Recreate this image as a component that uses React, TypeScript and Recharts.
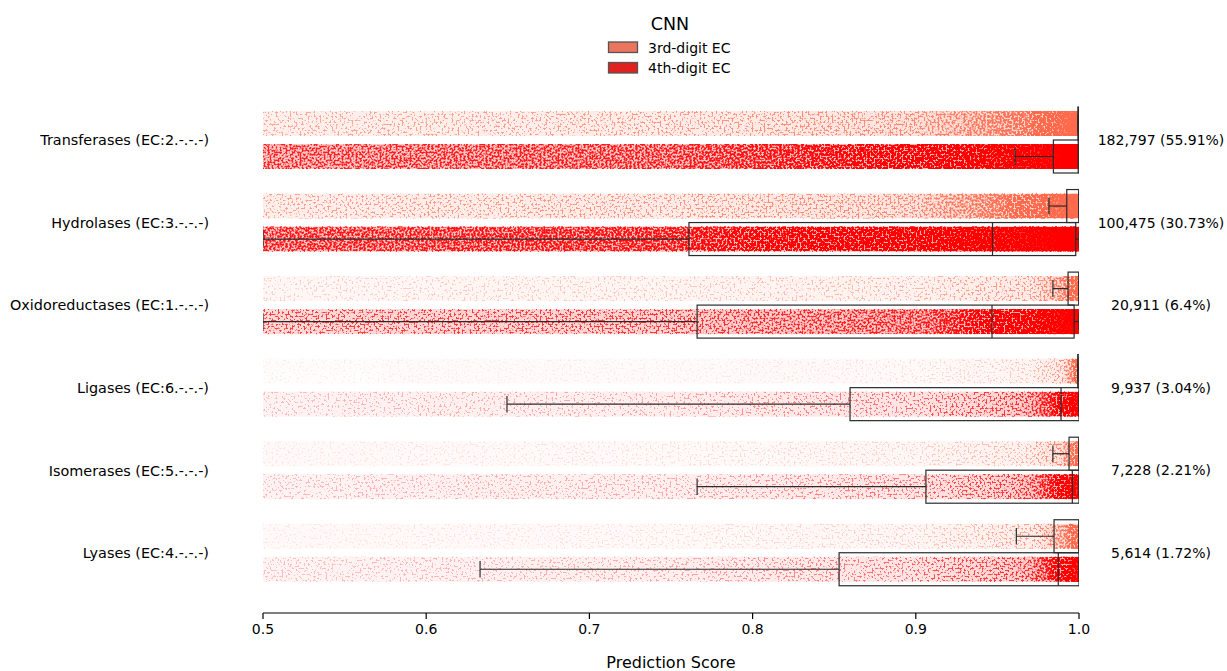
import React from 'react';
import { ComposedChart, Bar, XAxis, YAxis } from 'recharts';

// ---------------- data ----------------
const categories = [
  'Transferases (EC:2.-.-.-)',
  'Hydrolases (EC:3.-.-.-)',
  'Oxidoreductases (EC:1.-.-.-)',
  'Ligases (EC:6.-.-.-)',
  'Isomerases (EC:5.-.-.-)',
  'Lyases (EC:4.-.-.-)',
];
const countLabels = [
  '182,797 (55.91%)',
  '100,475 (30.73%)',
  '20,911 (6.4%)',
  '9,937 (3.04%)',
  '7,228 (2.21%)',
  '5,614 (1.72%)',
];
const seriesNames = ['3rd-digit EC', '4th-digit EC'];
const xTicks = [0.5, 0.6, 0.7, 0.8, 0.9, 1.0];

// box statistics, 3rd-digit EC
const whiskerLow3 = [0.9993, 0.9816, 0.984, 0.9992, 0.984, 0.9616];
const q1Third = [0.9993, 0.9925, 0.9933, 0.9992, 0.9939, 0.9847];
const median3 = [1.0, 0.9999, 0.9999, 1.0, 0.9999, 0.9999];
const q3Third = [1.0, 1.0, 1.0, 1.0, 1.0, 1.0];
const whiskerHigh3 = [1.0, 1.0, 1.0, 1.0, 1.0, 1.0];

// box statistics, 4th-digit EC
const whiskerLow4 = [0.9608, 0.5, 0.5, 0.6495, 0.766, 0.633];
const q1Fourth = [0.9843, 0.761, 0.766, 0.8597, 0.9062, 0.853];
const median4 = [0.9995, 0.947, 0.9467, 0.989, 0.9959, 0.9873];
const q3Fourth = [1.0, 0.998, 0.997, 1.0, 1.0, 1.0];
const whiskerHigh4 = [1.0, 1.0, 1.0, 1.0, 1.0, 1.0];

// ---------------- styles ----------------
const X_MIN = 0.5;
const X_MAX = 1.0;
const stripRGB = [
  [1.0, 0.416, 0.302],
  [1.0, 0.0, 0.0],
];
const legendColor = ['#ec7560', '#e0211f'];
const lineColor = '#2b2b2b';
const BOX_HEIGHT = 33;
const FONT = "'DejaVu Sans', sans-serif";

// visual point density of the strips (style only), at these fractions of the axis
const densityOffsets = [0, 0.5, 0.8, 0.94, 0.98, 1];
const densityThird = [
  [0.24, 0.29, 0.42, 0.66, 0.92, 1],
  [0.26, 0.31, 0.42, 0.72, 0.96, 1],
  [0.13, 0.16, 0.21, 0.32, 0.56, 0.88],
  [0.05, 0.06, 0.09, 0.16, 0.34, 0.82],
  [0.07, 0.09, 0.13, 0.22, 0.46, 0.78],
  [0.07, 0.09, 0.14, 0.27, 0.55, 0.82],
];
const densityFourth = [
  [0.5, 0.56, 0.7, 0.92, 1, 1],
  [0.56, 0.62, 0.78, 0.95, 1, 1],
  [0.36, 0.41, 0.53, 0.8, 0.96, 1],
  [0.12, 0.16, 0.25, 0.45, 0.72, 0.96],
  [0.12, 0.15, 0.24, 0.45, 0.75, 0.96],
  [0.11, 0.15, 0.25, 0.45, 0.75, 0.96],
];

const stats = [
  { lo: whiskerLow3, q1: q1Third, med: median3, q3: q3Third, hi: whiskerHigh3, density: densityThird },
  { lo: whiskerLow4, q1: q1Fourth, med: median4, q3: q3Fourth, hi: whiskerHigh4, density: densityFourth },
];

const rows = categories.map((name, i) => ({
  name,
  count: countLabels[i],
  idx: i,
  strip3: [X_MIN, X_MAX],
  strip4: [X_MIN, X_MAX],
}));

function makeShape(s: number) {
  return (props: any) => {
    const { x, y, width, height, payload } = props;
    const i: number = payload.idx;
    const st = stats[s];
    const px = (v: number) => x + ((v - X_MIN) / (X_MAX - X_MIN)) * width;
    const yc = y + height / 2;
    const bh = BOX_HEIGHT;
    const gid = `grad-${s}-${i}`;
    const fid = `speck-${s}-${i}`;
    const lo = px(st.lo[i]);
    const q1 = px(st.q1[i]);
    const med = px(st.med[i]);
    const q3 = px(st.q3[i]);
    const hi = px(st.hi[i]);
    const [r, g, b] = stripRGB[s];
    return (
      <g>
        <defs>
          <linearGradient id={gid} x1="0" y1="0" x2="1" y2="0">
            {densityOffsets.map((o, k) => (
              <stop key={k} offset={o} stopColor="#000" stopOpacity={st.density[i][k]} />
            ))}
          </linearGradient>
          <filter id={fid} x="0" y="0" width="1" height="1" colorInterpolationFilters="sRGB">
            <feTurbulence type="fractalNoise" baseFrequency="0.5" numOctaves={1} seed={3 + s * 11 + i * 5} result="n" />
            <feColorMatrix in="n" type="matrix" values="0 0 0 0 0  0 0 0 0 0  0 0 0 0 0  3.4 0 0 0 -1.2" result="na" />
            <feComposite in="SourceAlpha" in2="na" operator="arithmetic" k1={0} k2={3.5} k3={-2.8} k4={0} result="d" />
            <feComponentTransfer in="d" result="dc">
              <feFuncA type="linear" slope={1} intercept={0} />
            </feComponentTransfer>
            <feComposite in="dc" in2="SourceAlpha" operator="arithmetic" k1={0.35} k2={0.48} k3={0.42} k4={0} result="d2" />
            <feColorMatrix in="d2" type="matrix" values={`0 0 0 0 ${r}  0 0 0 0 ${g}  0 0 0 0 ${b}  0 0 0 1 0`} />
          </filter>
        </defs>
        <rect x={x} y={y} width={width} height={height} fill={`url(#${gid})`} filter={`url(#${fid})`} />
        {/* whiskers */}
        <line x1={lo} x2={q1} y1={yc} y2={yc} stroke={lineColor} strokeWidth={1.2} />
        <line x1={q3} x2={hi} y1={yc} y2={yc} stroke={lineColor} strokeWidth={1.2} />
        <line x1={lo} x2={lo} y1={yc - bh / 4} y2={yc + bh / 4} stroke={lineColor} strokeWidth={1.2} />
        <line x1={hi} x2={hi} y1={yc - bh / 4} y2={yc + bh / 4} stroke={lineColor} strokeWidth={1.2} />
        {/* box */}
        <rect x={q1} y={yc - bh / 2} width={Math.max(q3 - q1, 0.5)} height={bh} fill="none" stroke={lineColor} strokeWidth={1.2} />
        <line x1={med} x2={med} y1={yc - bh / 2} y2={yc + bh / 2} stroke={lineColor} strokeWidth={1.2} />
      </g>
    );
  };
}

const shape3 = makeShape(0);
const shape4 = makeShape(1);

const RightTick = (p: any) => (
  <text x={p.x + 82} y={p.y} dy="0.355em" textAnchor="middle" fontSize={14} fill="#000" fontFamily={FONT}>
    {p.payload.value}
  </text>
);

const LegendOverlay = () => (
  <svg width={1227} height={90} style={{ position: 'absolute', left: 0, top: 0, pointerEvents: 'none' }}>
    <text x={670} y={30} textAnchor="middle" fontSize={17.5} fill="#000" fontFamily={FONT}>CNN</text>
    {seriesNames.map((n, k) => (
      <g key={n}>
        <rect x={608.5} y={42 + k * 20.5} width={29} height={10.5} fill={legendColor[k]} stroke="#555" strokeWidth={1.3} />
        <text x={648} y={52.5 + k * 20.5} fontSize={14} fill="#000" fontFamily={FONT}>{n}</text>
      </g>
    ))}
  </svg>
);

export default function App() {
  const pad = { top: 0, bottom: 18.7 };
  return (
    <div style={{ position: 'absolute', left: 0, top: 0, width: 1227, height: 671, fontFamily: FONT, background: '#fff' }}>
      <ComposedChart
        width={1227}
        height={671}
        data={rows}
        layout="vertical"
        margin={{ top: 99, right: 0, bottom: 0, left: 0 }}
        barGap={8}
      >
        <XAxis
          type="number"
          domain={[X_MIN, X_MAX]}
          ticks={xTicks}
          tickFormatter={(v: number) => v.toFixed(1)}
          height={58}
          tickSize={6}
          tickMargin={5}
          allowDataOverflow
          axisLine={{ stroke: '#000', strokeWidth: 1.2 }}
          tickLine={{ stroke: '#000', strokeWidth: 1.2 }}
          tick={{ fill: '#000', fontSize: 14 }}
          label={{ value: 'Prediction Score', position: 'insideBottom', offset: 3, fontSize: 16, fill: '#000' }}
        />
        <YAxis
          yAxisId="left"
          type="category"
          dataKey="name"
          width={263}
          axisLine={false}
          tickLine={false}
          tickSize={0}
          tickMargin={54}
          padding={pad}
          tick={{ fill: '#000', fontSize: 14.4 }}
        />
        <YAxis
          yAxisId="right"
          orientation="right"
          type="category"
          dataKey="count"
          width={148}
          axisLine={false}
          tickLine={false}
          tickSize={0}
          tickMargin={0}
          padding={pad}
          tick={RightTick}
        />
        <Bar yAxisId="left" dataKey="strip3" name={seriesNames[0]} barSize={25} fill={legendColor[0]} shape={shape3} isAnimationActive={false} activeBar={false} />
        <Bar yAxisId="left" dataKey="strip4" name={seriesNames[1]} barSize={25} fill={legendColor[1]} shape={shape4} isAnimationActive={false} activeBar={false} />
      </ComposedChart>
      <LegendOverlay />
    </div>
  );
}
